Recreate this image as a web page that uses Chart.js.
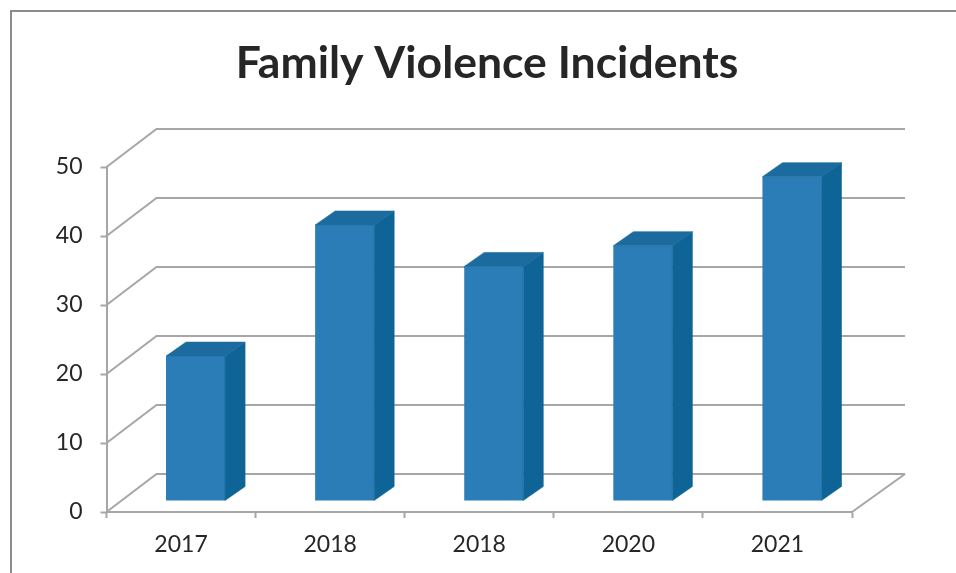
<!DOCTYPE html>
<html>
<head>
<meta charset="utf-8">
<title>Family Violence Incidents</title>
<script src="https://cdn.jsdelivr.net/npm/chart.js@4"></script>
<style>
html,body{margin:0;padding:0;background:#fff;overflow:hidden}
#wrap{position:absolute;left:0;top:0;width:956px;height:573px}
</style>
</head>
<body>
<div id="wrap"><canvas id="c"></canvas></div>
<script>
const categories = ['2017', '2018', '2018', '2020', '2021'];
const incidents = [21, 40, 34, 37, 47];
const chartTitle = 'Family Violence Incidents';
const yTicks = [0, 10, 20, 30, 40, 50];

const GRID = '#a6a6a6';
const TEXT = '#262626';
const FRONT = '#2a7db6', SIDE = '#0e6496', TOP = '#1c6b9e';
// 3D depth of the plot floor and of the bars
const WALL_DX_L = 50, WALL_DX_R = 53, WALL_DY = -38;
const BAR_SHIFT_X = 14.5, BAR_SHIFT_Y = -11, BAR_DX = 20, BAR_DY = -14;

function face(ctx, color, pts) {
  ctx.fillStyle = color;
  ctx.strokeStyle = color;
  ctx.lineWidth = 0.6;
  ctx.beginPath();
  pts.forEach((p, i) => i ? ctx.lineTo(p[0], p[1]) : ctx.moveTo(p[0], p[1]));
  ctx.closePath();
  ctx.fill();
  ctx.stroke();
}

const depth3d = {
  id: 'depth3d',
  beforeDraw(chart) {
    const { ctx, width, height } = chart;
    ctx.save();
    ctx.strokeStyle = '#8c8c8c';
    ctx.lineWidth = 2;
    ctx.beginPath();
    ctx.moveTo(11, height);
    ctx.lineTo(11, 11);
    ctx.lineTo(width, 11);
    ctx.stroke();
    ctx.restore();
  },
  beforeDatasetsDraw(chart) {
    const { ctx, chartArea: a, scales: { y } } = chart;
    ctx.save();
    ctx.strokeStyle = GRID;
    ctx.lineWidth = 2;
    yTicks.forEach(v => {
      const py = y.getPixelForValue(v);
      ctx.beginPath();
      ctx.moveTo(a.left, py);
      ctx.lineTo(a.left + WALL_DX_L, py + WALL_DY);
      ctx.lineTo(a.right + WALL_DX_R, py + WALL_DY);
      ctx.stroke();
    });
    const base = y.getPixelForValue(0);
    ctx.beginPath();
    ctx.moveTo(a.right, base);
    ctx.lineTo(a.right + WALL_DX_R, base + WALL_DY);
    ctx.stroke();
    ctx.restore();
    ctx.save();
    ctx.translate(BAR_SHIFT_X, BAR_SHIFT_Y);
  },
  afterDatasetsDraw(chart) {
    const { ctx } = chart;
    chart.getDatasetMeta(0).data.forEach(bar => {
      const { x, y, base, width } = bar.getProps(['x', 'y', 'base', 'width'], true);
      const l = x - width / 2, r = x + width / 2;
      face(ctx, SIDE, [[r, y], [r + BAR_DX, y + BAR_DY], [r + BAR_DX, base + BAR_DY], [r, base]]);
      face(ctx, TOP, [[l, y], [l + BAR_DX, y + BAR_DY], [r + BAR_DX, y + BAR_DY], [r, y]]);
    });
    ctx.restore();
  }
};

new Chart(document.getElementById('c'), {
  type: 'bar',
  data: {
    labels: categories,
    datasets: [{
      data: incidents,
      backgroundColor: FRONT,
      borderWidth: 0,
      barPercentage: 0.396,
      categoryPercentage: 1
    }]
  },
  plugins: [depth3d],
  options: {
    responsive: true,
    maintainAspectRatio: false,
    animation: false,
    layout: { padding: { left: 18, right: 0, top: 0, bottom: 0 } },
    plugins: {
      legend: { display: false },
      tooltip: { enabled: false },
      title: {
        display: true,
        text: chartTitle,
        color: TEXT,
        align: 'center',
        font: { family: 'Lato', size: 44.5, weight: 'bold' },
        padding: { top: 37, bottom: 76.6 }
      }
    },
    scales: {
      x: {
        afterFit(s) { s.height = 61; },
        grid: { drawOnChartArea: false, tickLength: 6, tickColor: GRID, tickWidth: 2 },
        border: { color: GRID, width: 2 },
        ticks: { color: TEXT, font: { family: 'Lato', size: 23 }, padding: 13, maxRotation: 0, autoSkip: false }
      },
      y: {
        min: 0,
        max: 50,
        afterFit(s) { s.width = 88.5; },
        afterBuildTicks(s) { s.ticks = yTicks.map(v => ({ value: v })); },
        grid: { drawOnChartArea: false, tickLength: 6, tickColor: GRID, tickWidth: 2 },
        border: { color: GRID, width: 2 },
        ticks: { color: TEXT, font: { family: 'Lato', size: 23 }, padding: 18 }
      },
      // empty right-hand gutter: the floor's depth is drawn into this space
      gutter: {
        axis: 'y',
        position: 'right',
        afterFit(s) { s.width = 104; },
        grid: { display: false },
        border: { display: false },
        ticks: { display: false }
      }
    }
  }
});
</script>
</body>
</html>
